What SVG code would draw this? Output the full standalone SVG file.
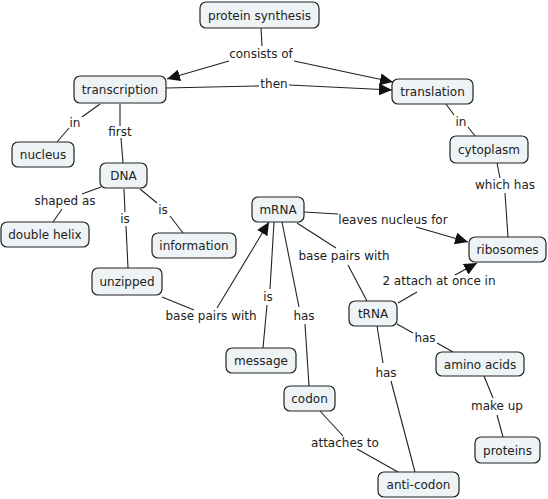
<svg xmlns="http://www.w3.org/2000/svg" width="548" height="499" viewBox="0 0 548 499">
<defs>
<style>
.n rect{fill:#eef3f5;stroke:#222;stroke-width:1.2}
text{font-family:"DejaVu Sans","Verdana",sans-serif;font-size:12px;fill:#222;text-anchor:middle}
.c path{fill:none;stroke:#222;stroke-width:1.1}
</style>
<marker id="ah" markerUnits="userSpaceOnUse" markerWidth="14" markerHeight="12" refX="13" refY="6" orient="auto">
<path d="M0,0 L13,6 L0,12 Z" fill="#111"/>
</marker>
</defs>
<rect width="548" height="499" fill="#fff"/>
<g id="connectors" class="c">
<path d="M261,28 L262,46"/>
<path d="M229,61 L167,79" marker-end="url(#ah)"/>
<path d="M294,61 L393,82" marker-end="url(#ah)"/>
<path d="M166,88 L259,86"/>
<path d="M289,85 L392,90" marker-end="url(#ah)"/>
<path d="M100,104 L82,117"/>
<path d="M69,128 L57,142"/>
<path d="M120,104 L120,126"/>
<path d="M121,138 L123,163"/>
<path d="M101,187 L82,194"/>
<path d="M62,209 L53,222"/>
<path d="M124,189 L125,212"/>
<path d="M126,226 L128,268"/>
<path d="M140,189 L157,203"/>
<path d="M170,216 L183,233"/>
<path d="M162,297 L194,310"/>
<path d="M217,308 L269,222" marker-end="url(#ah)"/>
<path d="M274,222 L270,289"/>
<path d="M267,305 L263,348"/>
<path d="M282,222 L299,307"/>
<path d="M305,324 L309,386"/>
<path d="M304,212 L338,214"/>
<path d="M416,227 L468,242" marker-end="url(#ah)"/>
<path d="M297,223 L336,248"/>
<path d="M348,265 L367,301"/>
<path d="M398,303 L417,292"/>
<path d="M455,275 L477,263" marker-end="url(#ah)"/>
<path d="M497,163 L500,178"/>
<path d="M505,193 L508,237"/>
<path d="M446,104 L454,115"/>
<path d="M468,127 L475,136"/>
<path d="M397,324 L413,333"/>
<path d="M437,343 L453,352"/>
<path d="M377,326 L383,363"/>
<path d="M391,381 L415,472"/>
<path d="M484,376 L493,398"/>
<path d="M497,415 L503,437"/>
<path d="M320,411 L343,436"/>
<path d="M357,449 L398,472"/>
</g>
<g id="link-labels">
<text x="261" y="58">consists of</text>
<text x="274" y="88">then</text>
<text x="75" y="127">in</text>
<text x="120" y="136">first</text>
<text x="65" y="205">shaped as</text>
<text x="125" y="223">is</text>
<text x="163" y="214">is</text>
<text x="211" y="320">base pairs with</text>
<text x="268" y="301">is</text>
<text x="304" y="320">has</text>
<text x="393" y="224">leaves nucleus for</text>
<text x="344" y="260">base pairs with</text>
<text x="439" y="285">2 attach at once in</text>
<text x="505" y="189">which has</text>
<text x="461" y="126">in</text>
<text x="425" y="342">has</text>
<text x="386" y="377">has</text>
<text x="497" y="410">make up</text>
<text x="345" y="447">attaches to</text>
</g>
<g id="protein-synthesis" class="n"><rect x="200" y="2" width="119" height="26" rx="6"/><text x="259.5" y="19.5">protein synthesis</text></g>
<g id="transcription" class="n"><rect x="74" y="76" width="92" height="27" rx="6"/><text x="120" y="94">transcription</text></g>
<g id="translation" class="n"><rect x="392" y="79" width="81" height="25" rx="6"/><text x="432.5" y="96">translation</text></g>
<g id="nucleus" class="n"><rect x="12" y="142" width="62" height="25" rx="6"/><text x="43" y="159">nucleus</text></g>
<g id="DNA" class="n"><rect x="100" y="163" width="47" height="25" rx="6"/><text x="123.5" y="180">DNA</text></g>
<g id="cytoplasm" class="n"><rect x="450" y="136" width="78" height="27" rx="6"/><text x="489" y="154">cytoplasm</text></g>
<g id="double-helix" class="n"><rect x="1" y="222" width="88" height="25" rx="6"/><text x="45" y="239">double helix</text></g>
<g id="information" class="n"><rect x="152" y="233" width="84" height="25" rx="6"/><text x="194" y="250">information</text></g>
<g id="mRNA" class="n"><rect x="252" y="197" width="52" height="25" rx="6"/><text x="278" y="214">mRNA</text></g>
<g id="unzipped" class="n"><rect x="92" y="268" width="70" height="27" rx="6"/><text x="127" y="286">unzipped</text></g>
<g id="ribosomes" class="n"><rect x="469" y="237" width="77" height="25" rx="6"/><text x="507.5" y="254">ribosomes</text></g>
<g id="tRNA" class="n"><rect x="349" y="301" width="48" height="25" rx="6"/><text x="373" y="318">tRNA</text></g>
<g id="message" class="n"><rect x="226" y="348" width="70" height="25" rx="6"/><text x="261" y="365">message</text></g>
<g id="codon" class="n"><rect x="284" y="386" width="51" height="25" rx="6"/><text x="309.5" y="403">codon</text></g>
<g id="amino-acids" class="n"><rect x="436" y="352" width="88" height="24" rx="6"/><text x="480" y="368.5">amino acids</text></g>
<g id="proteins" class="n"><rect x="475" y="437" width="65" height="26" rx="6"/><text x="507.5" y="454.5">proteins</text></g>
<g id="anti-codon" class="n"><rect x="378" y="472" width="81" height="25" rx="6"/><text x="418.5" y="489">anti-codon</text></g>
</svg>
